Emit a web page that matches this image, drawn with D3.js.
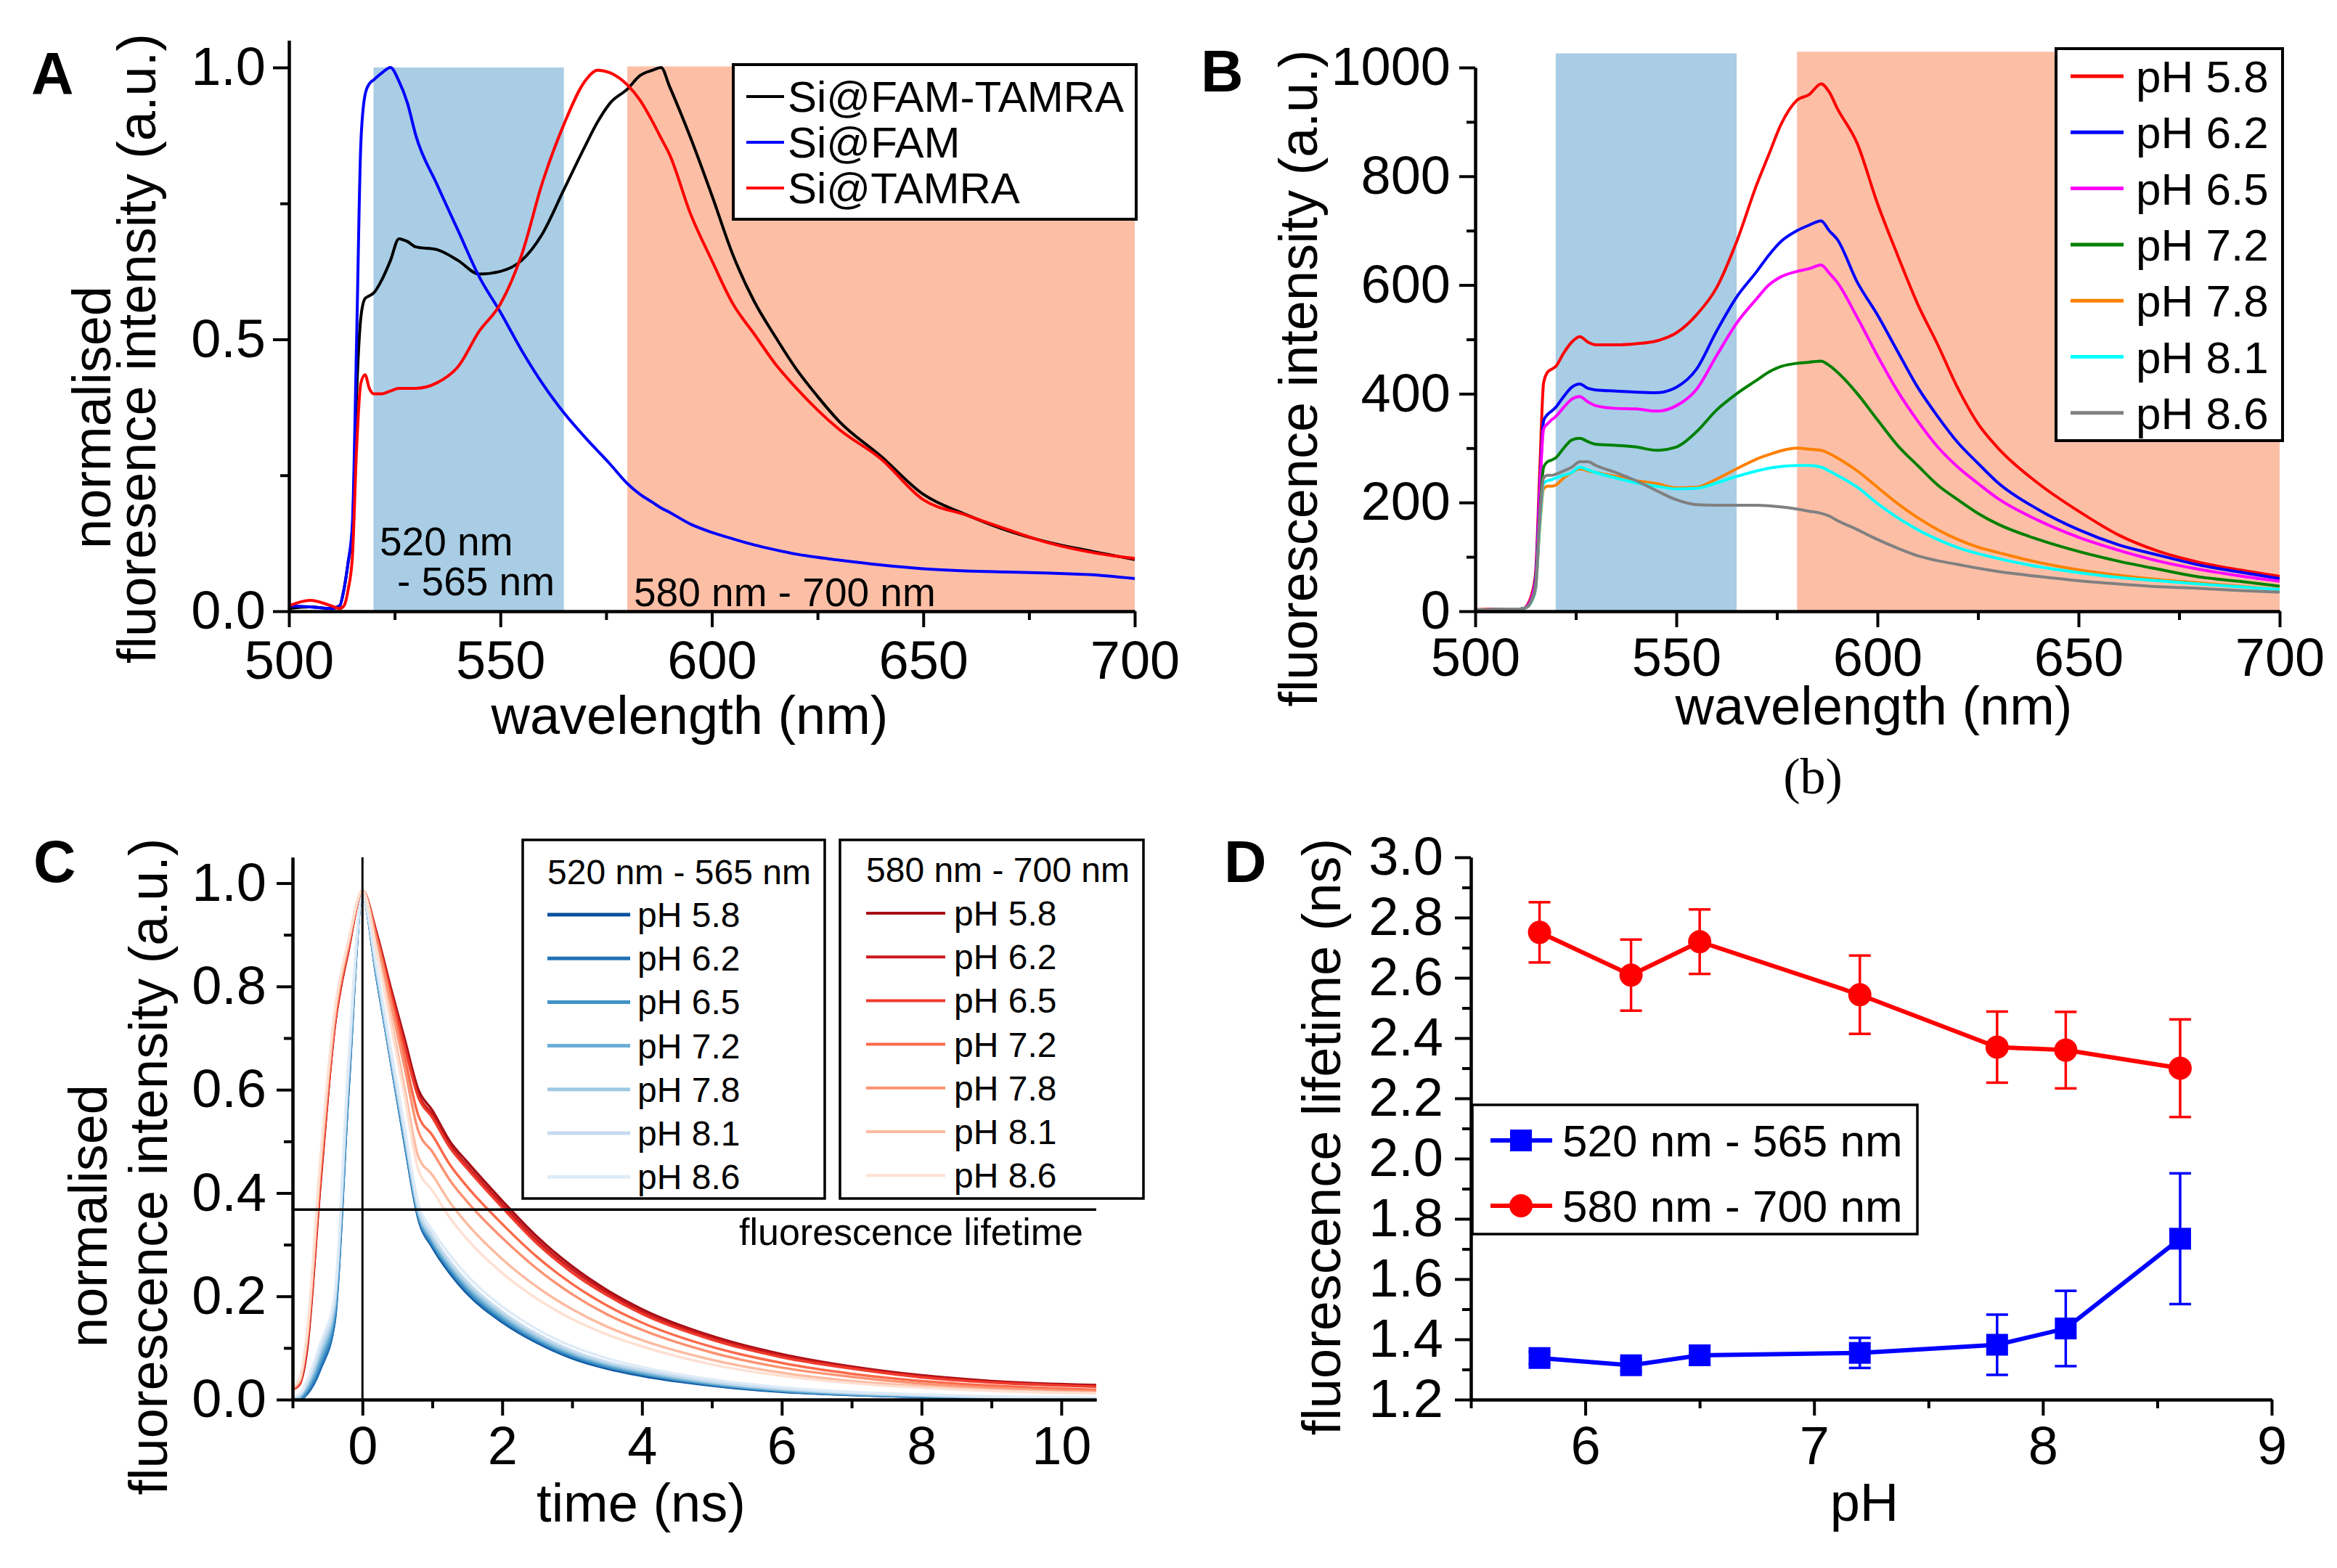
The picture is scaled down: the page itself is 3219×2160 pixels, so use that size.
<!DOCTYPE html>
<html>
<head>
<meta charset="utf-8">
<script src="https://cdn.jsdelivr.net/npm/d3@7/dist/d3.min.js"></script>
<style>
	body { margin: 0; background: #fff; }
	svg { display: block; font-family: "Liberation Sans", Arial, sans-serif; }
</style>
</head>
<body>
<svg id="fig" width="3219" height="2160"></svg>
<script>
// ---- panel A / B : emission spectra ----
var wavelength = [500, 505, 510, 512, 513, 514, 515, 516, 517, 518, 519, 520, 522, 524, 526, 528, 530, 535, 540, 545,
	550, 555, 560, 565, 570, 573, 576, 580, 583, 586, 588, 590, 595, 600, 605, 610, 615, 620, 625, 630,
	640, 650, 660, 670, 680, 690, 700];

var siFamTamra = [0.005, 0.008, 0.005, 0.01, 0.04, 0.09, 0.15, 0.4, 0.54, 0.575, 0.58, 0.585, 0.61, 0.645, 0.685, 0.68, 0.67, 0.665, 0.645, 0.62,
	0.625, 0.645, 0.695, 0.775, 0.855, 0.9, 0.935, 0.96, 0.985, 0.995, 1.0, 0.965, 0.87, 0.765, 0.655, 0.57, 0.505, 0.445, 0.395, 0.35,
	0.285, 0.215, 0.178, 0.148, 0.126, 0.11, 0.095];
var siFam = [0.01, 0.008, 0.005, 0.01, 0.04, 0.09, 0.16, 0.5, 0.86, 0.95, 0.97, 0.977, 0.99, 1.0, 0.975, 0.935, 0.875, 0.785, 0.7, 0.615,
	0.55, 0.48, 0.418, 0.365, 0.32, 0.295, 0.27, 0.235, 0.215, 0.2, 0.19, 0.182, 0.16, 0.145, 0.133, 0.122, 0.113, 0.105, 0.099, 0.094,
	0.085, 0.078, 0.074, 0.072, 0.07, 0.067, 0.06];
var siTamra = [0.01, 0.02, 0.01, 0.005, 0.01, 0.04, 0.1, 0.3, 0.42, 0.435, 0.41, 0.4, 0.4, 0.405, 0.41, 0.41, 0.41, 0.42, 0.45, 0.515,
	0.565, 0.655, 0.79, 0.895, 0.975, 0.995, 0.99, 0.968, 0.94, 0.9, 0.87, 0.84, 0.73, 0.645, 0.565, 0.51, 0.455, 0.41, 0.37, 0.335,
	0.28, 0.205, 0.177, 0.15, 0.125, 0.108, 0.097];

var seriesANames = ["Si@FAM-TAMRA", "Si@FAM", "Si@TAMRA"];
var seriesAColors = ["#000000", "#0000ff", "#ff0000"];

var phNames = ["pH 5.8", "pH 6.2", "pH 6.5", "pH 7.2", "pH 7.8", "pH 8.1", "pH 8.6"];
var phColorsB = ["#ff0000", "#0000ff", "#ff00ff", "#008000", "#ff8000", "#00ffff", "#808080"];

var specPh58 = [3, 4, 3, 5, 12, 30, 70, 250, 420, 440, 445, 450, 475, 495, 505, 495, 490, 490, 492, 497,
	512, 545, 595, 680, 785, 840, 895, 940, 950, 970, 955, 925, 860, 750, 655, 565, 490, 410, 345, 300,
	235, 184, 140, 110, 90, 76, 64];
var specPh62 = [2, 3, 3, 5, 10, 25, 60, 220, 350, 362, 368, 375, 395, 412, 418, 410, 407, 405, 403, 402,
	412, 445, 515, 578, 625, 655, 680, 700, 710, 718, 700, 684, 605, 545, 478, 412, 358, 310, 272, 236,
	187, 150, 122, 103, 85, 72, 60];
var specPh65 = [2, 3, 3, 5, 10, 25, 55, 210, 335, 345, 352, 358, 375, 390, 395, 385, 378, 373, 372, 368,
	378, 408, 470, 530, 575, 600, 615, 625, 630, 637, 622, 605, 540, 470, 405, 350, 302, 265, 235, 207,
	167, 136, 112, 92, 77, 65, 55];
var specPh72 = [2, 3, 3, 5, 8, 20, 45, 170, 265, 275, 278, 282, 300, 315, 318, 312, 307, 305, 302, 296,
	302, 330, 370, 400, 425, 440, 450, 456, 458, 460, 452, 440, 400, 352, 305, 268, 232, 205, 180, 160,
	132, 110, 92, 77, 63, 55, 46];
var specPh78 = [2, 3, 3, 5, 8, 18, 40, 150, 225, 230, 230, 232, 245, 255, 262, 258, 255, 248, 240, 235,
	227, 228, 243, 262, 280, 288, 295, 300, 298, 296, 290, 282, 258, 228, 198, 172, 150, 132, 118, 108,
	90, 76, 66, 58, 52, 46, 40];
var specPh81 = [2, 3, 3, 5, 8, 18, 42, 155, 235, 240, 242, 245, 250, 255, 265, 260, 255, 245, 236, 230,
	225, 226, 236, 248, 258, 263, 266, 268, 268, 265, 258, 250, 228, 198, 172, 150, 132, 117, 106, 97,
	82, 71, 62, 56, 50, 45, 40];
var specPh86 = [2, 3, 3, 5, 8, 20, 45, 165, 245, 250, 250, 252, 258, 265, 275, 275, 268, 255, 240, 222,
	205, 196, 195, 195, 195, 194, 192, 188, 184, 180, 175, 167, 150, 132, 116, 102, 93, 86, 79, 73,
	64, 56, 50, 45, 42, 38, 35];

// shaded detection windows (nm)
var band1 = [520, 565];
var band2 = [580, 700];

// ---- panel C : decay curves ----
var timeNs = [-1, -0.9, -0.8, -0.6, -0.4, -0.2, 0, 0.2, 0.4, 0.6, 0.8, 1.0, 1.25, 1.5, 2, 2.5, 3, 3.5, 4, 5, 6, 7, 8, 9, 10.5];

var decayG58 = [0, 0, 0.01, 0.06, 0.15, 0.6, 0.975, 0.82, 0.66, 0.5, 0.35, 0.295, 0.245, 0.205, 0.15, 0.11, 0.08, 0.06, 0.046, 0.027, 0.015, 0.009, 0.005, 0.003, 0.001];
var decayG62 = [0, 0, 0.01, 0.06, 0.15, 0.6, 0.975, 0.82, 0.66, 0.5, 0.352, 0.298, 0.248, 0.208, 0.152, 0.112, 0.082, 0.062, 0.048, 0.028, 0.016, 0.009, 0.005, 0.003, 0.002];
var decayG65 = [0, 0, 0.015, 0.07, 0.16, 0.61, 0.975, 0.82, 0.66, 0.505, 0.356, 0.302, 0.252, 0.212, 0.156, 0.115, 0.085, 0.064, 0.05, 0.03, 0.017, 0.01, 0.006, 0.004, 0.002];
var decayG72 = [0, 0.005, 0.02, 0.08, 0.17, 0.62, 0.975, 0.825, 0.665, 0.51, 0.36, 0.307, 0.257, 0.217, 0.16, 0.118, 0.088, 0.067, 0.052, 0.031, 0.018, 0.011, 0.007, 0.004, 0.002];
var decayG78 = [0, 0.005, 0.025, 0.09, 0.18, 0.63, 0.975, 0.83, 0.67, 0.515, 0.365, 0.312, 0.262, 0.222, 0.165, 0.122, 0.091, 0.07, 0.055, 0.033, 0.02, 0.012, 0.008, 0.005, 0.003];
var decayG81 = [0.005, 0.01, 0.03, 0.1, 0.19, 0.64, 0.975, 0.835, 0.675, 0.52, 0.37, 0.318, 0.268, 0.228, 0.17, 0.127, 0.095, 0.073, 0.058, 0.035, 0.021, 0.013, 0.008, 0.005, 0.003];
var decayG86 = [0.005, 0.01, 0.035, 0.11, 0.2, 0.66, 0.975, 0.84, 0.685, 0.53, 0.38, 0.328, 0.28, 0.24, 0.18, 0.136, 0.103, 0.08, 0.063, 0.039, 0.024, 0.015, 0.01, 0.006, 0.004];

var decayR58 = [0.02, 0.03, 0.09, 0.42, 0.72, 0.87, 0.985, 0.905, 0.8, 0.7, 0.6, 0.56, 0.5, 0.46, 0.385, 0.315, 0.258, 0.212, 0.175, 0.123, 0.088, 0.064, 0.047, 0.036, 0.028];
var decayR62 = [0.02, 0.03, 0.095, 0.425, 0.72, 0.872, 0.985, 0.9, 0.795, 0.69, 0.59, 0.552, 0.493, 0.452, 0.378, 0.308, 0.252, 0.207, 0.17, 0.12, 0.085, 0.062, 0.045, 0.034, 0.026];
var decayR65 = [0.02, 0.032, 0.1, 0.43, 0.725, 0.875, 0.985, 0.9, 0.79, 0.685, 0.585, 0.546, 0.488, 0.447, 0.372, 0.302, 0.246, 0.202, 0.166, 0.116, 0.082, 0.06, 0.043, 0.033, 0.025];
var decayR72 = [0.022, 0.034, 0.105, 0.44, 0.73, 0.878, 0.985, 0.895, 0.78, 0.665, 0.55, 0.512, 0.455, 0.412, 0.34, 0.276, 0.224, 0.182, 0.149, 0.102, 0.071, 0.05, 0.036, 0.027, 0.019];
var decayR78 = [0.022, 0.036, 0.11, 0.45, 0.735, 0.882, 0.985, 0.89, 0.77, 0.645, 0.52, 0.48, 0.425, 0.383, 0.313, 0.253, 0.204, 0.165, 0.135, 0.091, 0.062, 0.044, 0.031, 0.023, 0.016];
var decayR81 = [0.024, 0.038, 0.115, 0.46, 0.745, 0.886, 0.985, 0.875, 0.745, 0.605, 0.47, 0.435, 0.382, 0.34, 0.272, 0.218, 0.175, 0.141, 0.115, 0.077, 0.052, 0.036, 0.026, 0.019, 0.013];
var decayR86 = [0.025, 0.04, 0.12, 0.47, 0.75, 0.89, 0.985, 0.87, 0.73, 0.59, 0.445, 0.405, 0.352, 0.31, 0.245, 0.195, 0.156, 0.126, 0.103, 0.068, 0.046, 0.032, 0.023, 0.017, 0.012];

var bluesC = ["#08519c", "#2171b5", "#4292c6", "#6baed6", "#9ecae1", "#c6dbef", "#deebf7"];
var redsC = ["#a50f15", "#cb181d", "#ef3b2c", "#fb6a4a", "#fc9272", "#fcbba1", "#fee0d2"];
var lifetimeLevel = 0.368;

// ---- panel D : lifetimes ----
var phValues = [5.8, 6.2, 6.5, 7.2, 7.8, 8.1, 8.6];
var tauBand1 = [1.338, 1.314, 1.347, 1.355, 1.382, 1.436, 1.734];
var tauBand1Err = [0.02, 0.02, 0.03, 0.05, 0.1, 0.125, 0.217];
var tauBand2 = [2.751, 2.609, 2.72, 2.544, 2.37, 2.36, 2.30];
var tauBand2Err = [0.1, 0.118, 0.107, 0.13, 0.118, 0.127, 0.162];
var bandNames = ["520 nm - 565 nm", "580 nm - 700 nm"];

var svg = d3.select("#fig");
svg.append("rect").attr("width", 3219).attr("height", 2160).attr("fill", "#fff");

var drawAxes = function (g, x, y, o) {
	var base = y.range()[0];
	var left = x.range()[0];
	var xMinor = g.append("g").attr("transform", "translate(0," + base + ")")
	    .call(d3.axisBottom(x).tickValues(o.xMinor).tickSize(12).tickSizeOuter(0).tickFormat(""));
	var xMajor = g.append("g").attr("transform", "translate(0," + base + ")")
	    .call(d3.axisBottom(x).tickValues(o.xMajor).tickSize(22).tickSizeOuter(0).tickPadding(o.xPad || 14).tickFormat(o.xFmt));
	var yMinor = g.append("g").attr("transform", "translate(" + left + ",0)")
	    .call(d3.axisLeft(y).tickValues(o.yMinor).tickSize(12).tickSizeOuter(0).tickFormat(""));
	var yMajor = g.append("g").attr("transform", "translate(" + left + ",0)")
	    .call(d3.axisLeft(y).tickValues(o.yMajor).tickSize(22).tickSizeOuter(0).tickPadding(o.yPad || 14).tickFormat(o.yFmt));
	[xMinor, xMajor, yMinor, yMajor].forEach(function (a) {
		a.selectAll("path, line").attr("stroke", "#000").attr("stroke-width", 4);
		a.selectAll("text").attr("fill", "#000").style("font-size", "74px")
		    .style("font-family", "'Liberation Sans', Arial, sans-serif");
	});
};

var label = function (x, y, txt, size, opts) {
	opts = opts || {};
	var t = svg.append("text")
	    .attr("x", x).attr("y", y)
	    .attr("text-anchor", opts.anchor || "middle")
	    .attr("fill", "#000")
	    .style("font-size", size + "px")
	    .text(txt);
	if (opts.rotate) t.attr("transform", "rotate(-90," + x + "," + y + ")");
	if (opts.bold) t.style("font-weight", "bold");
	if (opts.serif) t.style("font-family", "'Liberation Serif', 'Times New Roman', serif");
	return t;
};

var legendBox = function (x, y, w, h, sw) {
	svg.append("rect").attr("x", x).attr("y", y).attr("width", w).attr("height", h)
	    .attr("fill", "#fff").attr("stroke", "#000").attr("stroke-width", sw);
};

// ================= A =================
var xA = d3.scaleLinear().domain([500, 700]).range([398, 1563]);
var yA = d3.scaleLinear().domain([0, 1.05]).range([842, 55.5]);
var gA = svg.append("g");

gA.append("rect").attr("x", xA(band1[0])).attr("width", xA(band1[1]) - xA(band1[0]))
    .attr("y", yA(1.0)).attr("height", yA(0) - yA(1.0)).attr("fill", "#a8cde5");
gA.append("rect").attr("x", xA(band2[0])).attr("width", xA(band2[1]) - xA(band2[0]))
    .attr("y", yA(1.002)).attr("height", yA(0) - yA(1.002)).attr("fill", "#fcbfa6");

var lineA = d3.line()
    .x(function (d, i) { return xA(wavelength[i]); })
    .y(function (d) { return yA(d); })
    .curve(d3.curveMonotoneX);
[siFamTamra, siFam, siTamra].forEach(function (s, i) {
	gA.append("path").datum(s).attr("d", lineA)
	    .attr("fill", "none").attr("stroke", seriesAColors[i]).attr("stroke-width", 4)
	    .attr("stroke-linejoin", "round");
});

drawAxes(gA, xA, yA, {
	xMajor: [500, 550, 600, 650, 700], xMinor: [525, 575, 625, 675], xFmt: d3.format("d"), xPad: 18,
	yMajor: [0, 0.5, 1.0], yMinor: [0.25, 0.75], yFmt: d3.format(".1f"), yPad: 10
});

label(523, 765, "520 nm", 55, { anchor: "start" });
label(764, 820, "- 565 nm", 55, { anchor: "end" });
label(873, 835, "580 nm - 700 nm", 55, { anchor: "start" });

legendBox(1010, 89, 555, 213, 4);
seriesANames.forEach(function (n, i) {
	var ry = 133 + i * 63;
	svg.append("line").attr("x1", 1028).attr("x2", 1080).attr("y1", ry).attr("y2", ry)
	    .attr("stroke", seriesAColors[i]).attr("stroke-width", 4);
	label(1085, ry + 21, n, 60, { anchor: "start" });
});

label(950, 1011, "wavelength (nm)", 74);
label(152, 575, "normalised", 74, { rotate: true });
label(214, 480, "fluoresence intensity (a.u.)", 74, { rotate: true });
label(43, 129, "A", 81, { anchor: "start", bold: true });

// ================= B =================
var xB = d3.scaleLinear().domain([500, 700]).range([2032, 3140]);
var yB = d3.scaleLinear().domain([0, 1000]).range([842, 93]);
var gB = svg.append("g");

gB.append("rect").attr("x", xB(band1[0])).attr("width", xB(band1[1]) - xB(band1[0]))
    .attr("y", yB(1026)).attr("height", yB(0) - yB(1026)).attr("fill", "#a8cde5");
gB.append("rect").attr("x", xB(band2[0])).attr("width", xB(band2[1]) - xB(band2[0]))
    .attr("y", yB(1029)).attr("height", yB(0) - yB(1029)).attr("fill", "#fcbfa6");

var lineB = d3.line()
    .x(function (d, i) { return xB(wavelength[i]); })
    .y(function (d) { return yB(d); })
    .curve(d3.curveMonotoneX);
[specPh58, specPh62, specPh65, specPh72, specPh78, specPh81, specPh86].forEach(function (s, i) {
	gB.append("path").datum(s).attr("d", lineB)
	    .attr("fill", "none").attr("stroke", phColorsB[i]).attr("stroke-width", 4)
	    .attr("stroke-linejoin", "round");
});

drawAxes(gB, xB, yB, {
	xMajor: [500, 550, 600, 650, 700], xMinor: [525, 575, 625, 675], xFmt: d3.format("d"), xPad: 14,
	yMajor: [0, 200, 400, 600, 800, 1000], yMinor: [100, 300, 500, 700, 900], yFmt: d3.format("d"), yPad: 12
});

legendBox(2832, 67, 312, 540, 4);
phNames.forEach(function (n, i) {
	var ry = 105 + i * 77.3;
	svg.append("line").attr("x1", 2852).attr("x2", 2925).attr("y1", ry).attr("y2", ry)
	    .attr("stroke", phColorsB[i]).attr("stroke-width", 5);
	label(2942, ry + 22, n, 62, { anchor: "start" });
});

label(2581, 998, "wavelength (nm)", 74);
label(1814, 521, "fluorescence intensity (a.u.)", 74, { rotate: true });
label(2497, 1093, "(b)", 70, { serif: true });
label(1654, 126, "B", 81, { anchor: "start", bold: true });

// ================= C =================
var xC = d3.scaleLinear().domain([-1, 10.5]).range([403, 1510]);
var yC = d3.scaleLinear().domain([0, 1.05]).range([1928, 1181]);
var gC = svg.append("g");

var lineC = d3.line()
    .x(function (d, i) { return xC(timeNs[i]); })
    .y(function (d) { return yC(d); })
    .curve(d3.curveMonotoneX);
var bluesData = [decayG58, decayG62, decayG65, decayG72, decayG78, decayG81, decayG86];
var redsData = [decayR58, decayR62, decayR65, decayR72, decayR78, decayR81, decayR86];
bluesData.forEach(function (s, i) {
	gC.append("path").datum(s).attr("d", lineC)
	    .attr("fill", "none").attr("stroke", bluesC[i]).attr("stroke-width", 3.5);
});
redsData.forEach(function (s, i) {
	gC.append("path").datum(s).attr("d", lineC)
	    .attr("fill", "none").attr("stroke", redsC[i]).attr("stroke-width", 3.5);
});

gC.append("line").attr("x1", xC(0)).attr("x2", xC(0)).attr("y1", yC(0)).attr("y2", yC(1.05))
    .attr("stroke", "#000").attr("stroke-width", 3);
gC.append("line").attr("x1", xC(-1)).attr("x2", xC(10.5)).attr("y1", yC(lifetimeLevel)).attr("y2", yC(lifetimeLevel))
    .attr("stroke", "#000").attr("stroke-width", 3.5);

drawAxes(gC, xC, yC, {
	xMajor: [0, 2, 4, 6, 8, 10], xMinor: [-1, 1, 3, 5, 7, 9], xFmt: d3.format("d"), xPad: 14,
	yMajor: [0, 0.2, 0.4, 0.6, 0.8, 1.0], yMinor: [0.1, 0.3, 0.5, 0.7, 0.9], yFmt: d3.format(".1f"), yPad: 14
});

label(1492, 1715, "fluorescence lifetime", 52, { anchor: "end" });

legendBox(720, 1157, 416, 494, 3.5);
legendBox(1157, 1157, 418, 494, 3.5);
label(754, 1218, bandNames[0], 48, { anchor: "start" });
label(1193, 1215, bandNames[1], 48, { anchor: "start" });
phNames.forEach(function (n, i) {
	var ry = 1260 + i * 60.2;
	svg.append("line").attr("x1", 754).attr("x2", 868).attr("y1", ry).attr("y2", ry)
	    .attr("stroke", bluesC[i]).attr("stroke-width", 5);
	label(878, ry + 17, n, 48, { anchor: "start" });
	svg.append("line").attr("x1", 1193).attr("x2", 1302).attr("y1", ry - 2).attr("y2", ry - 2)
	    .attr("stroke", redsC[i]).attr("stroke-width", 4);
	label(1314, ry + 15, n, 48, { anchor: "start" });
});

label(883, 2096, "time (ns)", 74);
label(147, 1675, "normalised", 74, { rotate: true });
label(230, 1607, "fluorescence intensity (a.u.)", 74, { rotate: true });
label(46, 1215, "C", 81, { anchor: "start", bold: true });

// ================= D =================
var xD = d3.scaleLinear().domain([5.5, 9]).range([2026, 3129]);
var yD = d3.scaleLinear().domain([1.2, 3.0]).range([1928, 1181]);
var gD = svg.append("g");

var drawSeriesD = function (vals, errs, color, marker) {
	var pts = phValues.map(function (p, i) { return { x: p, y: vals[i], e: errs[i] }; });
	gD.append("path").datum(pts)
	    .attr("d", d3.line().x(function (d) { return xD(d.x); }).y(function (d) { return yD(d.y); }))
	    .attr("fill", "none").attr("stroke", color).attr("stroke-width", 6);
	var bars = gD.selectAll(null).data(pts).enter().append("g").attr("stroke", color).attr("stroke-width", 3.5);
	bars.append("line")
	    .attr("x1", function (d) { return xD(d.x); }).attr("x2", function (d) { return xD(d.x); })
	    .attr("y1", function (d) { return yD(d.y - d.e); }).attr("y2", function (d) { return yD(d.y + d.e); });
	[1, -1].forEach(function (s) {
		bars.append("line")
		    .attr("x1", function (d) { return xD(d.x) - 15; }).attr("x2", function (d) { return xD(d.x) + 15; })
		    .attr("y1", function (d) { return yD(d.y + s * d.e); }).attr("y2", function (d) { return yD(d.y + s * d.e); });
	});
	if (marker === "square") {
		gD.selectAll(null).data(pts).enter().append("rect")
		    .attr("x", function (d) { return xD(d.x) - 15; }).attr("y", function (d) { return yD(d.y) - 15; })
		    .attr("width", 30).attr("height", 30).attr("fill", color);
	} else {
		gD.selectAll(null).data(pts).enter().append("circle")
		    .attr("cx", function (d) { return xD(d.x); }).attr("cy", function (d) { return yD(d.y); })
		    .attr("r", 16).attr("fill", color);
	}
};
drawSeriesD(tauBand1, tauBand1Err, "#0000ff", "square");
drawSeriesD(tauBand2, tauBand2Err, "#ff0000", "circle");

drawAxes(gD, xD, yD, {
	xMajor: [6, 7, 8, 9], xMinor: [5.5, 6.5, 7.5, 8.5], xFmt: d3.format("d"), xPad: 14,
	yMajor: d3.range(1.2, 3.01, 0.2), yMinor: d3.range(1.3, 3.0, 0.2), yFmt: d3.format(".1f"), yPad: 16
});

legendBox(2028, 1522, 613, 178, 3.5);
[["#0000ff", "square"], ["#ff0000", "circle"]].forEach(function (m, i) {
	var ry = 1571 + i * 90;
	svg.append("line").attr("x1", 2053).attr("x2", 2138).attr("y1", ry).attr("y2", ry)
	    .attr("stroke", m[0]).attr("stroke-width", 6);
	if (m[1] === "square") {
		svg.append("rect").attr("x", 2080).attr("y", ry - 15).attr("width", 30).attr("height", 30).attr("fill", m[0]);
	} else {
		svg.append("circle").attr("cx", 2095).attr("cy", ry).attr("r", 16).attr("fill", m[0]);
	}
	label(2152, ry + 22, bandNames[i], 62, { anchor: "start" });
});

label(2568, 2095, "pH", 74);
label(1846, 1566, "fluorescence lifetime (ns)", 74, { rotate: true });
label(1686, 1215, "D", 81, { anchor: "start", bold: true });
</script>
</body>
</html>
